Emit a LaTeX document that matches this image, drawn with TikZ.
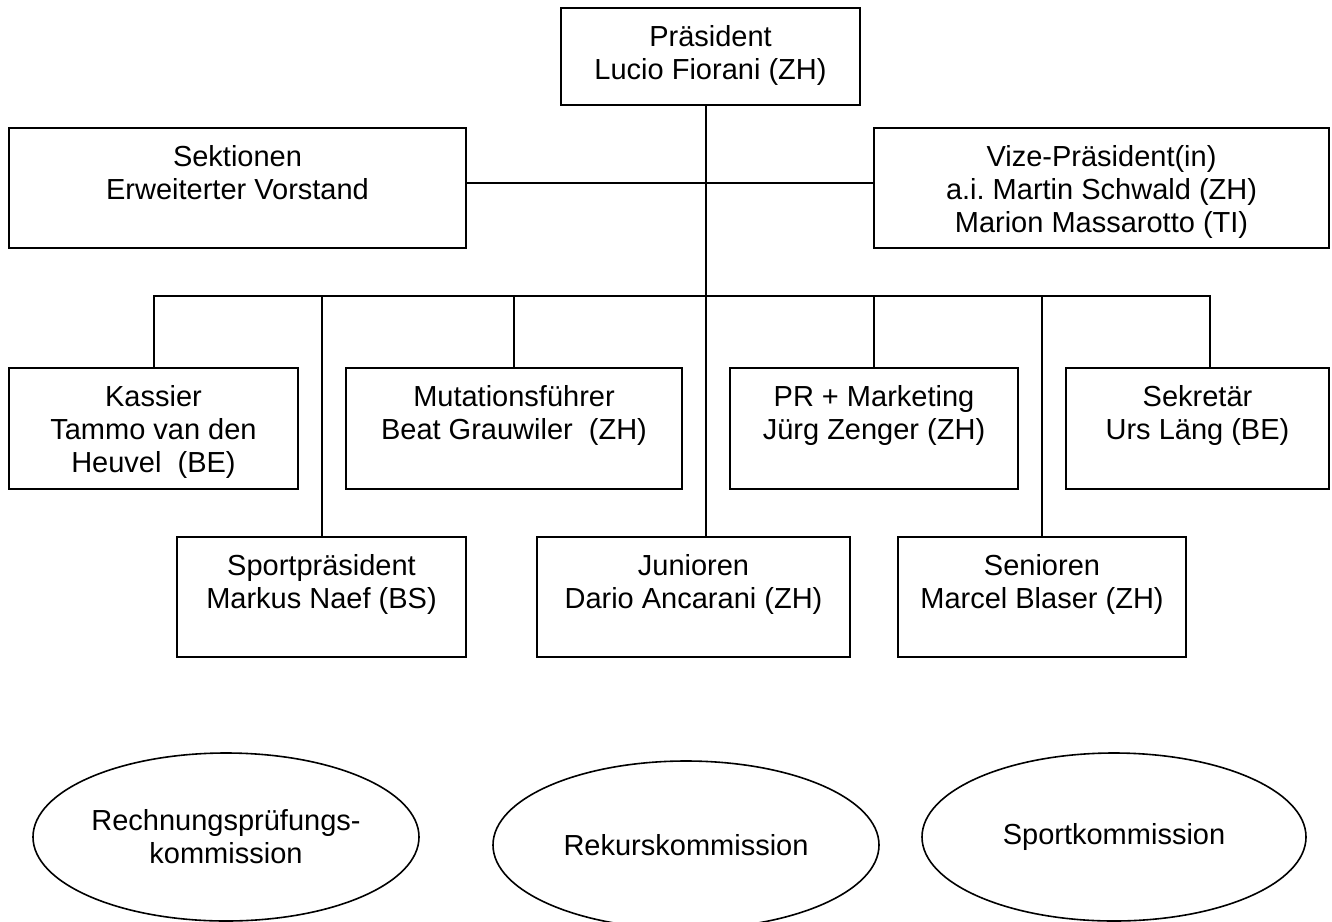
\documentclass[tikz,border=0pt]{standalone}
\usepackage{fontspec}
\setmainfont{Liberation Sans}
\usetikzlibrary{shapes.geometric}
\newlength\pxu
\setlength\pxu{0.5pt}
\newcommand\boxtxt[3]{\parbox[c][#2\pxu][t]{#1\pxu}{\centering\fontsize{14.5}{16.6}\selectfont\vspace*{7.63pt}\strut #3}}
\begin{document}
\begin{tikzpicture}[x=0.5pt,y=-0.5pt,
  orgbox/.style={draw, rectangle, inner sep=0pt, line width=1pt},
  comm/.style={draw, ellipse, inner sep=0pt, line width=0.8pt, minimum width=193pt, minimum height=84pt, align=center, font=\fontsize{14.5}{16.6}\selectfont},
  link/.style={line width=1pt}]
\useasboundingbox (0,0) rectangle (1332,921);
\node[orgbox] (pres) at (710.5,56.5) {\boxtxt{299}{97}{Präsident\\Lucio Fiorani (ZH)}};
\node[orgbox] (sekt) at (237.5,188) {\boxtxt{457}{120}{Sektionen\\Erweiterter Vorstand}};
\node[orgbox] (vize) at (1101.5,188) {\boxtxt{455}{120}{Vize-Präsident(in)\\a.i.\ Martin Schwald (ZH)\\Marion Massarotto (TI)}};
\node[orgbox] (kass) at (153.5,428.5) {\boxtxt{289}{121}{Kassier\\Tammo van den\\Heuvel\ \ (BE)}};
\node[orgbox] (mut) at (514,428.5) {\boxtxt{336}{121}{Mutationsführer\\Beat Grauwiler\ \ (ZH)}};
\node[orgbox] (pr) at (874,428.5) {\boxtxt{288}{121}{PR + Marketing\\Jürg Zenger (ZH)}};
\node[orgbox] (sekr) at (1197.5,428.5) {\boxtxt{263}{121}{Sekretär\\Urs Läng (BE)}};
\node[orgbox] (sport) at (321.5,597) {\boxtxt{289}{120}{Sportpräsident\\Markus Naef (BS)}};
\node[orgbox] (jun) at (693.5,597) {\boxtxt{313}{120}{Junioren\\Dario Ancarani (ZH)}};
\node[orgbox] (sen) at (1042,597) {\boxtxt{288}{120}{Senioren\\Marcel Blaser (ZH)}};
\node[comm] (rpk) at (226,837) {Rechnungsprüfungs-\\kommission};
\node[comm] (rek) at (686,845) {Rekurskommission};
\node[comm, minimum width=192pt] (spk) at (1114,837) {Sportkommission};
\coordinate (trunk) at (706,296);
\coordinate (mid) at (706,183);
\coordinate (busL) at (154,296);
\coordinate (busR) at (1210,296);
\draw[link] (pres.south -| trunk) -- (jun.north -| trunk);
\draw[link] (sekt.east |- mid) -- (vize.west |- mid);
\draw[link] (kass.north -| busL) -- (busL) -- (busR) -- (sekr.north -| busR);
\draw[link] (sport.north |- trunk) -- (sport.north);
\draw[link] (mut.north |- trunk) -- (mut.north);
\draw[link] (pr.north |- trunk) -- (pr.north);
\draw[link] (sen.north |- trunk) -- (sen.north);
\end{tikzpicture}
\end{document}
